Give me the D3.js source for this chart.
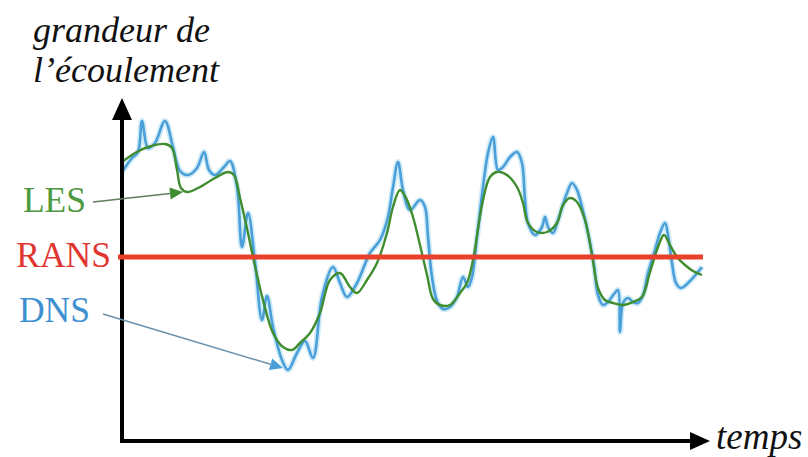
<!DOCTYPE html>
<html>
<head>
<meta charset="utf-8">
<script src="https://cdn.jsdelivr.net/npm/d3@7/dist/d3.min.js"></script>
<style>
  html, body { margin: 0; padding: 0; background: #ffffff; }
  svg { display: block; }
</style>
</head>
<body>
<svg id="chart" width="808" height="457"></svg>
<script>
// ---- data ----
const dnsTime = [0,10,16,20,26,33,43,51,58,66,75,82,87,93,102,108,115,120,126,133,140,145,151,160,166,175,183,191,200,211,218,225,235,248,258,266,271,276,281,288,298,303,306,310,315,321,328,335,341,346,350,355,361,366,371,376,381,388,395,400,403,406,413,420,423,426,431,436,445,450,455,460,466,472,476,481,486,492,496,498,501,506,511,516,521,526,533,538,543,546,550,554,559,568,580];
const dnsValue = [8.5,9.9,10.5,13.6,10.9,11.4,13.6,11.0,8.6,8.2,8.9,10.5,8.7,8.2,9.0,9.6,7.0,1.0,4.4,-0.5,-6.3,-3.9,-7.0,-10.3,-11.3,-9.6,-8.4,-10.1,-4.0,-1.0,-2.6,-4.0,-2.6,0.4,1.7,4.0,7.0,9.5,6.7,4.7,5.7,5.0,2.0,-2.0,-4.4,-5.2,-5.0,-4.0,-2.0,-3.0,-2.0,2.0,7.0,10.4,12.0,8.7,9.0,10.0,10.5,9.4,5.7,3.4,2.2,3.0,4.0,3.0,2.4,3.7,6.4,7.4,6.7,5.0,2.4,-0.8,-3.8,-4.8,-4.5,-3.7,-3.3,-7.5,-4.6,-4.1,-4.5,-4.6,-3.8,-1.6,0.7,2.4,3.4,2.2,-0.6,-2.6,-3.1,-2.4,-1.0];

const lesTime = [0,13,26,43,50,55,59,65,76,93,106,112,118,126,131,141,151,161,170,178,188,198,208,218,228,235,245,255,265,271,278,285,291,298,305,311,318,328,338,345,351,361,368,375,385,395,401,406,415,425,435,441,448,455,463,470,476,483,491,501,511,520,528,536,542,548,555,563,571,580];
const lesValue = [9.5,10.4,11.0,11.3,10.9,8.7,6.9,6.5,6.9,7.9,8.5,8.2,5.9,2.4,0,-4.3,-7.6,-9.0,-9.3,-8.6,-7.6,-5.6,-2.3,-1.6,-3.0,-3.6,-2.3,-0.6,2.4,5.0,6.7,5.7,4.0,1.2,-1.8,-4.2,-4.8,-4.8,-3.6,-2.6,-0.3,5.7,8.0,8.5,8.2,7.0,5.4,3.4,2.5,2.5,3.4,5.2,5.9,5.5,3.7,0.2,-3.1,-4.3,-4.6,-4.8,-4.5,-4.0,-1.5,1.0,2.2,1.2,0,-0.8,-1.4,-1.8];

const ransTime = [-4, 581];
const ransValue = [0, 0];

const seriesNames = ["LES", "RANS", "DNS"];
const axisLabels = ["grandeur de", "l\u2019\u00e9coulement", "temps"];
// arrow targets (time, value) for the LES and DNS annotations
const lesArrowTarget = [61, 6.5];
const dnsArrowTarget = [161, -11.1];

// ---- drawing ----
const svg = d3.select("#chart");
const x = d3.scaleLinear().domain([0, 586]).range([122, 708]);
const y = d3.scaleLinear().domain([-18.4, 15.7]).range([441, 100]);

const colBlue = "#4a9fd8", colGreen = "#3f8d2f", colRed = "#e8402a";

const line = d3.line()
  .x(d => x(d[0])).y(d => y(d[1]))
  .curve(d3.curveCatmullRom.alpha(0.5));

const dns = dnsTime.map((t, i) => [t, dnsValue[i]]);
const les = lesTime.map((t, i) => [t, lesValue[i]]);
const rans = ransTime.map((t, i) => [t, ransValue[i]]);

// soft halo for DNS
svg.append("path").datum(dns).attr("d", line)
  .attr("fill", "none").attr("stroke", "#c4e6f6").attr("stroke-width", 6)
  .attr("stroke-linejoin", "round").attr("opacity", 0.8);
svg.append("path").datum(dns).attr("d", line)
  .attr("fill", "none").attr("stroke", colBlue).attr("stroke-width", 2.6)
  .attr("stroke-linejoin", "round");

svg.append("path").datum(les).attr("d", line)
  .attr("fill", "none").attr("stroke", colGreen).attr("stroke-width", 2.4)
  .attr("stroke-linejoin", "round");

// axes
const x0 = x(0), yBase = y(-18.4);
svg.append("line").attr("x1", x0).attr("y1", yBase + 2).attr("x2", x0).attr("y2", 118)
  .attr("stroke", "#000").attr("stroke-width", 4);
svg.append("path").attr("d", `M${x0 - 10},${120} L${x0},${98} L${x0 + 10},${120} Z`).attr("fill", "#000");
svg.append("line").attr("x1", x0 - 2).attr("y1", yBase).attr("x2", 692).attr("y2", yBase)
  .attr("stroke", "#000").attr("stroke-width", 4);
svg.append("path").attr("d", `M${690},${yBase - 9} L${710},${yBase} L${690},${yBase + 9} Z`).attr("fill", "#000");

// RANS line
svg.append("path").datum(rans).attr("d", d3.line().x(d => x(d[0])).y(d => y(d[1])))
  .attr("stroke", colRed).attr("stroke-width", 5).attr("fill", "none");

// annotation arrows
function arrow(x1, y1, x2, y2, lineCol, headCol) {
  const ang = Math.atan2(y2 - y1, x2 - x1);
  const L = 13, W = 6;
  const bx = x2 - L * Math.cos(ang), by = y2 - L * Math.sin(ang);
  svg.append("line").attr("x1", x1).attr("y1", y1).attr("x2", bx).attr("y2", by)
    .attr("stroke", lineCol).attr("stroke-width", 1.4);
  const px = -Math.sin(ang) * W, py = Math.cos(ang) * W;
  svg.append("path")
    .attr("d", `M${x2},${y2} L${bx + px},${by + py} L${bx - px},${by - py} Z`)
    .attr("fill", headCol);
}
arrow(93, 202, x(lesArrowTarget[0]), y(lesArrowTarget[1]), "#5f7f5a", colGreen);
arrow(103, 314, x(dnsArrowTarget[0]), y(dnsArrowTarget[1]), "#6a8fa8", colBlue);

// labels
function label(tx, ty, txt, size, col, italic, anchor) {
  svg.append("text").attr("x", tx).attr("y", ty)
    .attr("text-anchor", anchor || "start")
    .style("font-family", '"Liberation Serif"')
    .style("font-size", size + "px")
    .style("font-style", italic ? "italic" : "normal")
    .attr("fill", col).text(txt);
}
label(86, 212, seriesNames[0], 35.5, "#4e9a3e", false, "end");
label(111, 267, seriesNames[1], 35.5, "#e0362f", false, "end");
label(90, 322, seriesNames[2], 35.5, "#3f90d0", false, "end");
label(33, 42, axisLabels[0], 36, "#111", true);
label(33, 82, axisLabels[1], 36, "#111", true);
label(716, 449, axisLabels[2], 37, "#111", true);
</script>
</body>
</html>
